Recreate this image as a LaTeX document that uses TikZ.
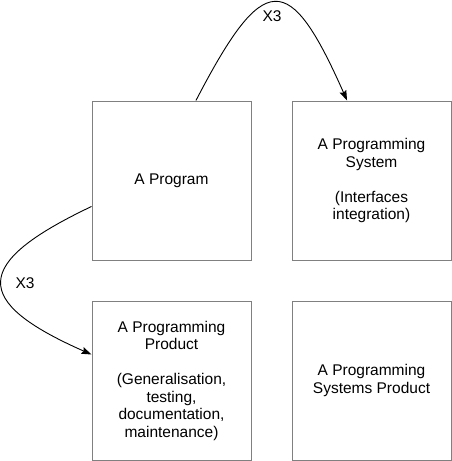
\documentclass[tikz,border=0pt]{standalone}
\usepackage{fontspec}
\setmainfont{Liberation Sans}
\usepackage{xcolor}
\definecolor{boxgray}{HTML}{808080}
\usepackage{tikz}
\usetikzlibrary{arrows.meta,positioning,calc}

\begin{document}
\begin{tikzpicture}[
  x=1pt, y=-1pt,
  font=\fontsize{15.5}{17.5}\selectfont,
  stage/.style={rectangle, draw=boxgray, line width=1pt, minimum size=159pt,
                inner sep=0pt, align=center},
  growth/.style={-{Stealth[length=10pt, width=7pt, inset=1.5pt]}, line width=0.9pt, black},
  lbl/.style={inner sep=0pt},
]
\useasboundingbox (0,0) rectangle (452,461);

% ---------- the four stages
\node[stage] (prog) at (171.5,180.5) {A Program};
\node[stage] (sys)  at (371.5,180.5) {A Programming\\ System\\[17.5pt] (Interfaces\\ integration)};
\node[stage] (prod) at (171.5,380.5) {A Programming\\ Product\\[17.5pt] (Generalisation,\\ testing,\\ documentation,\\ maintenance)};
\node[stage] (sysprod) at (371.5,380.5) {A Programming\\ Systems Product};

% ---------- the cost factors
\draw[growth] (prog.73) .. controls +(68,-131) and +(-58,-131) .. (sys.107);
\node[lbl] (xsys) at (272,16) {X3};

\draw[growth] (prog.198) .. controls +(-120,57) and +(-120,-53) .. (prod.162);
\node[lbl] (xprod) at (25,283) {X3};
\end{tikzpicture}
\end{document}
